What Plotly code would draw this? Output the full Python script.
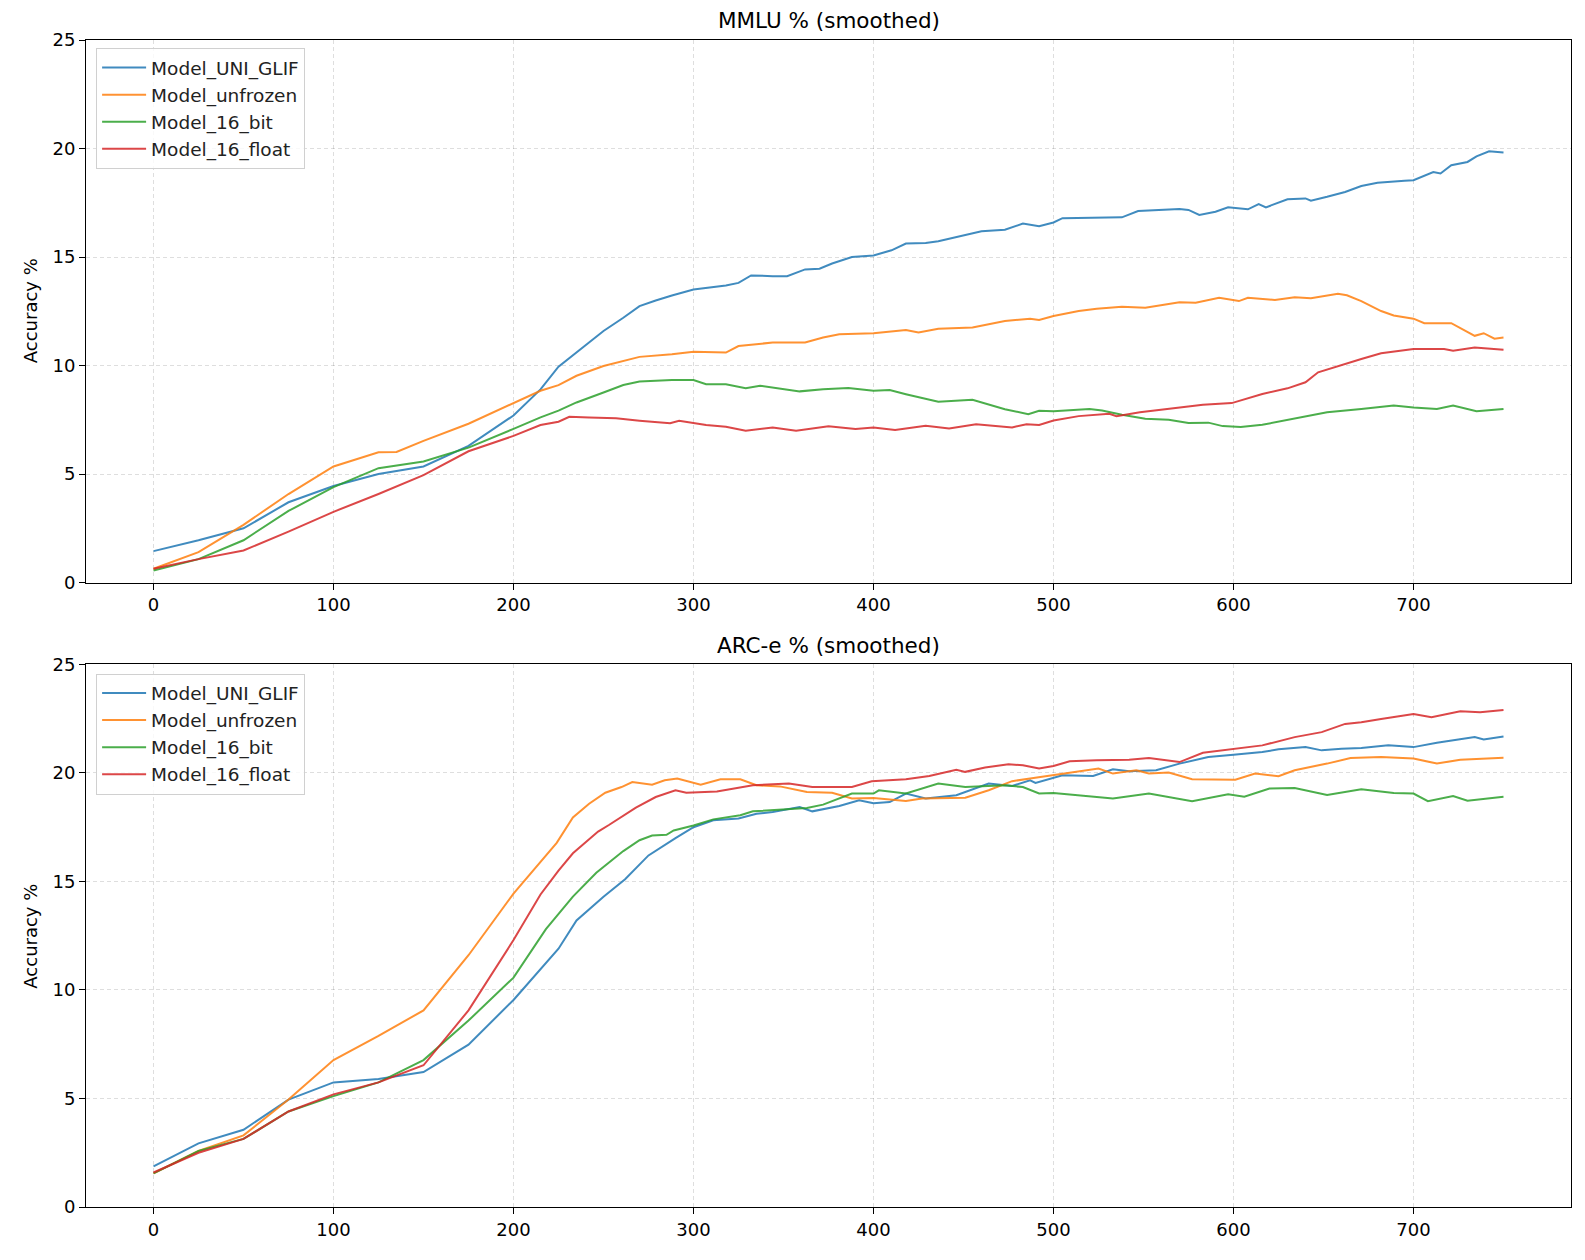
import plotly.graph_objects as go

# ---------------- MMLU (top panel) ----------------
mmlu_uni_steps = [0, 25, 50, 75, 100, 125, 150, 175, 200, 215, 225, 235, 250, 261, 270, 279, 288, 300, 311, 318, 325, 332, 344, 352, 362, 370, 377, 388, 400, 410, 418, 429, 436, 451, 460, 473, 483, 492, 500, 505, 524, 538, 547, 570, 575, 581, 590, 597, 608, 614, 618, 630, 640, 643, 652, 662, 671, 680, 695, 700, 711, 715, 721, 730, 735, 742, 750]
mmlu_uni = [1.45, 1.95, 2.5, 3.7, 4.45, 5.0, 5.35, 6.3, 7.7, 8.9, 9.95, 10.6, 11.59, 12.2, 12.74, 13.0, 13.23, 13.5, 13.63, 13.69, 13.81, 14.15, 14.12, 14.12, 14.43, 14.46, 14.7, 15.0, 15.07, 15.31, 15.62, 15.65, 15.73, 16.03, 16.19, 16.26, 16.54, 16.42, 16.59, 16.79, 16.83, 16.83, 17.12, 17.21, 17.17, 16.94, 17.09, 17.29, 17.2, 17.44, 17.29, 17.66, 17.7, 17.6, 17.78, 18.0, 18.27, 18.42, 18.51, 18.54, 18.92, 18.85, 19.23, 19.38, 19.64, 19.87, 19.82]

mmlu_unfrozen_steps = [0, 25, 50, 75, 100, 125, 135, 150, 175, 200, 215, 225, 235, 250, 261, 270, 288, 300, 318, 325, 344, 362, 372, 381, 400, 418, 425, 436, 455, 473, 487, 492, 500, 505, 514, 524, 538, 551, 560, 570, 579, 592, 603, 608, 623, 634, 643, 658, 663, 671, 682, 689, 700, 706, 721, 734, 739, 745, 750]
mmlu_unfrozen = [0.64, 1.4, 2.66, 4.08, 5.35, 6.0, 6.02, 6.53, 7.32, 8.27, 8.84, 9.1, 9.53, 9.98, 10.21, 10.4, 10.52, 10.63, 10.6, 10.9, 11.06, 11.06, 11.29, 11.44, 11.49, 11.64, 11.52, 11.7, 11.75, 12.05, 12.16, 12.1, 12.28, 12.36, 12.51, 12.62, 12.71, 12.66, 12.77, 12.92, 12.89, 13.12, 12.97, 13.12, 13.02, 13.15, 13.1, 13.31, 13.24, 12.97, 12.51, 12.31, 12.16, 11.95, 11.95, 11.37, 11.49, 11.24, 11.29]

mmlu_16bit_steps = [0, 25, 50, 75, 100, 125, 150, 175, 200, 215, 225, 235, 250, 261, 270, 288, 300, 307, 318, 329, 337, 359, 372, 386, 400, 409, 418, 436, 455, 473, 486, 492, 500, 520, 527, 538, 551, 564, 575, 586, 594, 604, 616, 634, 652, 671, 689, 700, 713, 722, 735, 750]
mmlu_16bit = [0.56, 1.08, 1.95, 3.3, 4.4, 5.27, 5.58, 6.22, 7.08, 7.61, 7.92, 8.3, 8.76, 9.1, 9.26, 9.33, 9.33, 9.14, 9.14, 8.96, 9.07, 8.81, 8.91, 8.96, 8.84, 8.87, 8.68, 8.33, 8.42, 7.99, 7.76, 7.92, 7.89, 8.0, 7.93, 7.73, 7.55, 7.5, 7.35, 7.37, 7.21, 7.17, 7.27, 7.55, 7.85, 8.0, 8.16, 8.07, 8.0, 8.16, 7.89, 8.0]

mmlu_16float_steps = [0, 25, 50, 75, 100, 125, 150, 175, 200, 215, 225, 231, 242, 257, 270, 287, 292, 307, 318, 329, 344, 357, 375, 390, 400, 412, 429, 442, 457, 477, 485, 492, 500, 514, 531, 535, 548, 566, 583, 599, 616, 630, 640, 647, 652, 671, 682, 700, 717, 722, 734, 750]
mmlu_16float = [0.64, 1.08, 1.48, 2.35, 3.26, 4.08, 4.95, 6.05, 6.76, 7.26, 7.41, 7.64, 7.61, 7.57, 7.46, 7.34, 7.46, 7.26, 7.18, 7.0, 7.15, 7.0, 7.2, 7.08, 7.15, 7.03, 7.23, 7.1, 7.3, 7.15, 7.3, 7.26, 7.47, 7.67, 7.78, 7.67, 7.85, 8.04, 8.19, 8.27, 8.69, 8.95, 9.23, 9.69, 9.81, 10.3, 10.57, 10.76, 10.76, 10.68, 10.83, 10.73]

# ---------------- ARC-e (bottom panel) ----------------
arc_uni_steps = [0, 25, 50, 75, 100, 125, 150, 175, 200, 225, 235, 250, 262, 275, 290, 300, 311, 325, 335, 344, 359, 366, 381, 392, 400, 409, 418, 429, 446, 464, 477, 487, 490, 505, 522, 533, 542, 557, 570, 586, 600, 616, 625, 640, 649, 660, 671, 686, 700, 713, 734, 739, 750]
arc_uni = [1.87, 2.93, 3.56, 4.95, 5.74, 5.9, 6.22, 7.48, 9.54, 11.9, 13.2, 14.3, 15.1, 16.2, 17.0, 17.5, 17.82, 17.9, 18.12, 18.2, 18.43, 18.23, 18.48, 18.74, 18.6, 18.66, 19.05, 18.82, 18.97, 19.51, 19.4, 19.66, 19.54, 19.89, 19.86, 20.17, 20.08, 20.12, 20.43, 20.73, 20.84, 20.96, 21.09, 21.19, 21.04, 21.12, 21.15, 21.27, 21.19, 21.39, 21.65, 21.54, 21.68]

arc_unfrozen_steps = [0, 25, 50, 75, 100, 125, 150, 175, 200, 215, 224, 233, 242, 251, 260, 266, 277, 284, 291, 304, 315, 326, 335, 348, 363, 377, 388, 400, 418, 427, 451, 464, 477, 487, 500, 525, 533, 546, 553, 564, 577, 601, 612, 625, 634, 652, 665, 682, 700, 713, 726, 750]
arc_unfrozen = [1.55, 2.58, 3.3, 4.95, 6.77, 7.88, 9.06, 11.6, 14.44, 15.89, 16.78, 17.95, 18.58, 19.09, 19.35, 19.58, 19.46, 19.66, 19.74, 19.46, 19.71, 19.71, 19.43, 19.38, 19.12, 19.09, 18.82, 18.85, 18.71, 18.82, 18.86, 19.2, 19.62, 19.74, 19.89, 20.2, 19.97, 20.12, 19.97, 20.02, 19.71, 19.69, 19.97, 19.85, 20.12, 20.43, 20.69, 20.73, 20.66, 20.43, 20.61, 20.7]

arc_16bit_steps = [0, 25, 50, 75, 100, 125, 150, 175, 200, 218, 233, 246, 261, 270, 277, 285, 289, 300, 311, 326, 333, 363, 372, 388, 400, 403, 418, 436, 451, 473, 483, 492, 500, 533, 553, 577, 597, 606, 620, 634, 652, 671, 689, 700, 708, 722, 730, 750]
arc_16bit = [1.55, 2.58, 3.14, 4.4, 5.11, 5.74, 6.77, 8.59, 10.57, 12.8, 14.3, 15.4, 16.4, 16.9, 17.12, 17.15, 17.35, 17.58, 17.86, 18.05, 18.23, 18.38, 18.54, 19.05, 19.05, 19.2, 19.05, 19.51, 19.35, 19.43, 19.35, 19.05, 19.08, 18.82, 19.05, 18.7, 19.02, 18.9, 19.28, 19.31, 18.98, 19.25, 19.08, 19.05, 18.7, 18.94, 18.72, 18.9]

arc_16float_steps = [0, 25, 50, 75, 100, 125, 150, 175, 200, 215, 225, 233, 247, 253, 268, 279, 290, 296, 313, 333, 353, 366, 388, 399, 418, 431, 446, 451, 462, 475, 483, 492, 500, 509, 524, 542, 553, 570, 583, 600, 616, 634, 649, 662, 671, 682, 700, 710, 726, 737, 750]
arc_16float = [1.59, 2.5, 3.14, 4.4, 5.19, 5.74, 6.53, 9.06, 12.3, 14.4, 15.5, 16.3, 17.3, 17.6, 18.4, 18.89, 19.2, 19.09, 19.15, 19.43, 19.51, 19.35, 19.35, 19.62, 19.71, 19.86, 20.15, 20.05, 20.25, 20.4, 20.35, 20.2, 20.32, 20.54, 20.58, 20.61, 20.69, 20.5, 20.93, 21.12, 21.27, 21.65, 21.88, 22.26, 22.34, 22.49, 22.72, 22.57, 22.84, 22.8, 22.9]

names = ["Model_UNI_GLIF", "Model_unfrozen", "Model_16_bit", "Model_16_float"]
colors = ["#1f77b4", "#ff7f0e", "#2ca02c", "#d62728"]
x_ticks = [0, 100, 200, 300, 400, 500, 600, 700]
y_ticks = [0, 5, 10, 15, 20, 25]

FONT = "DejaVu Sans"
W, H = 1585, 1260
BODY = 8      # page body margin (css px)
SCALE = 0.99  # photo px per css px


def css(p):
    # photographed pixel -> figure pixel
    return p / SCALE - BODY


ML = css(85)
MR = W - css(1555)
MT = css(40)
MB = H - css(1195)
PW = W - ML - MR
PH = H - MT - MB


def fx(p):
    return (css(p) - ML) / PW


def fy(p):
    return 1 - (css(p) - MT) / PH


fig = go.Figure()
top = [(mmlu_uni_steps, mmlu_uni), (mmlu_unfrozen_steps, mmlu_unfrozen),
       (mmlu_16bit_steps, mmlu_16bit), (mmlu_16float_steps, mmlu_16float)]
bot = [(arc_uni_steps, arc_uni), (arc_unfrozen_steps, arc_unfrozen),
       (arc_16bit_steps, arc_16bit), (arc_16float_steps, arc_16float)]
for n, c, (sx, sy) in zip(names, colors, top):
    fig.add_trace(go.Scatter(x=sx, y=sy, mode="lines", name=n,
                             line=dict(color=c, width=2), opacity=0.85,
                             xaxis="x", yaxis="y", legend="legend"))
for n, c, (sx, sy) in zip(names, colors, bot):
    fig.add_trace(go.Scatter(x=sx, y=sy, mode="lines", name=n,
                             line=dict(color=c, width=2), opacity=0.85,
                             xaxis="x2", yaxis="y2", legend="legend2"))

xdom = [0, 1]
top_dom = [fy(577), 1]
bot_dom = [0, fy(658)]

axis_common = dict(showline=True, mirror=True, linecolor="black", linewidth=1,
                   ticks="outside", ticklen=6, tickcolor="black", automargin=False,
                   tickfont=dict(family=FONT, size=18, color="black"),
                   showgrid=True, gridcolor="rgba(0,0,0,0.13)", griddash="4px,3px",
                   gridwidth=1, zeroline=False)

legend_common = dict(xanchor="left", yanchor="top",
                     bgcolor="rgba(255,255,255,0.8)", bordercolor="#d0d0d0", borderwidth=1,
                     font=dict(family=FONT, size=18.5, color="#222222"),
                     tracegroupgap=0, itemwidth=44)

fig.update_layout(
    width=W, height=H,
    margin=dict(l=ML, r=MR, t=MT, b=MB, autoexpand=False),
    paper_bgcolor="white", plot_bgcolor="white",
    font=dict(family=FONT, size=18, color="black"),
    xaxis=dict(domain=xdom, range=[-37.5, 787.5], tickvals=x_ticks, anchor="y", **axis_common),
    yaxis=dict(domain=top_dom, range=[0, 25], tickvals=y_ticks, anchor="x", **axis_common),
    xaxis2=dict(domain=xdom, range=[-37.5, 787.5], tickvals=x_ticks, anchor="y2", **axis_common),
    yaxis2=dict(domain=bot_dom, range=[0, 25], tickvals=y_ticks, anchor="x2", **axis_common),
    legend=dict(x=fx(95), y=fy(48), **legend_common),
    legend2=dict(x=fx(95), y=fy(667), **legend_common),
    annotations=[
        dict(text="MMLU % (smoothed)", x=fx(820), y=fy(21), xref="paper", yref="paper",
             xanchor="center", yanchor="middle", showarrow=False,
             font=dict(family=FONT, size=21.5, color="black")),
        dict(text="ARC-e % (smoothed)", x=fx(820), y=fy(639), xref="paper", yref="paper",
             xanchor="center", yanchor="middle", showarrow=False,
             font=dict(family=FONT, size=21.5, color="black")),
        dict(text="Accuracy %", x=fx(30), y=fy(308), xref="paper", yref="paper",
             xanchor="center", yanchor="middle", showarrow=False, textangle=-90,
             font=dict(family=FONT, size=18, color="black")),
        dict(text="Accuracy %", x=fx(30), y=fy(927), xref="paper", yref="paper",
             xanchor="center", yanchor="middle", showarrow=False, textangle=-90,
             font=dict(family=FONT, size=18, color="black")),
    ],
)

fig.write_html("out.html")
